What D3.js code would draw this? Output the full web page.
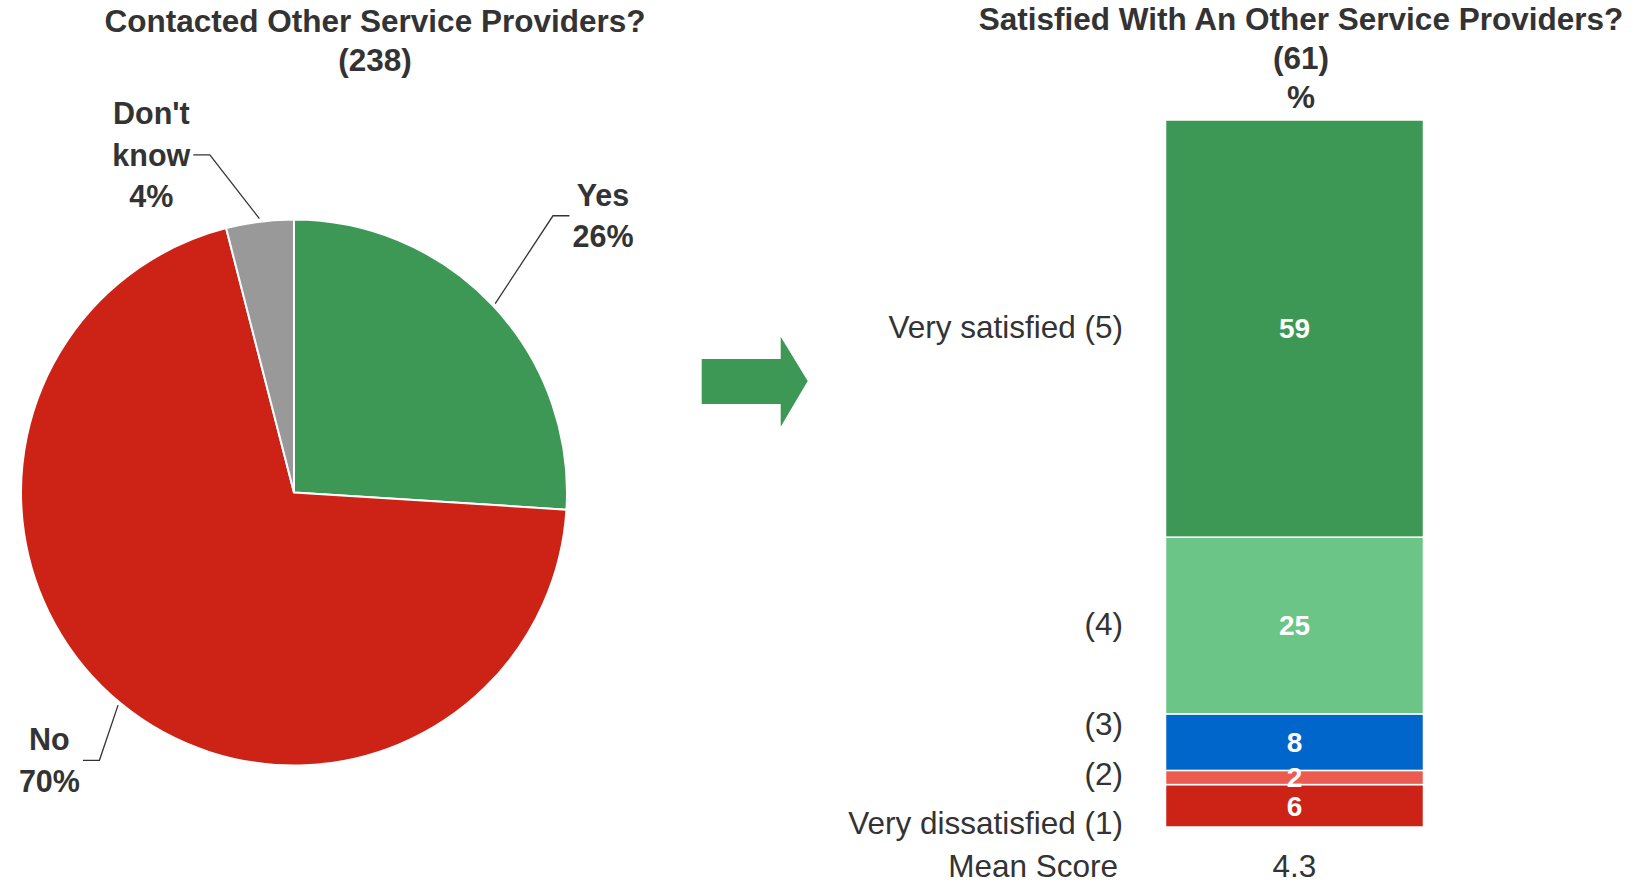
<!DOCTYPE html>
<html><head><meta charset="utf-8">
<script src="https://cdn.jsdelivr.net/npm/d3@7"></script>
<style>
body{margin:0;background:#fff;}
text{font-family:"Liberation Sans",Arial,Helvetica,sans-serif;}
</style>
</head><body>
<svg id="c" width="1645" height="883"></svg>
<script>
// ---------- DATA ----------
const pieTitle = ["Contacted Other Service Providers?", "(238)"];
const pieCategories = ["Yes", "No", "Don't know"];
const pieValues = [26, 70, 4];
const pieLabelLines = [["Yes", "26%"], ["No", "70%"], ["Don't", "know", "4%"]];
const pieColors = ["#3d9856", "#cc2316", "#999999"];

const barTitle = ["Satisfied With An Other Service Providers?", "(61)", "%"];
const barCategories = ["Very dissatisfied (1)", "(2)", "(3)", "(4)", "Very satisfied (5)"];
const barValues = [6, 2, 8, 25, 59];
const barColors = ["#cc2316", "#ec5b50", "#0066cc", "#6bc586", "#3d9856"];
const meanLabel = "Mean Score";
const meanValue = "4.3";

// ---------- LAYOUT ----------
const svg = d3.select("#c");
const txt = "#333333";

// ===== PIE =====
const cx = 294, cy = 492.5, R = 273;
const g = svg.append("g").attr("transform", `translate(${cx},${cy})`);
const pie = d3.pie().sort(null).value(d => d)(pieValues);
const arc = d3.arc().innerRadius(0).outerRadius(R);
g.selectAll("path.slice").data(pie).join("path")
  .attr("class", "slice")
  .attr("d", arc)
  .attr("fill", (d, i) => pieColors[i])
  .attr("stroke", "#fff").attr("stroke-width", 2).attr("stroke-linejoin", "round");

// leader line layout (elbow radius & angular tweak per slice)
const elbowR = [379, 331, 348];
const elbowDelta = [-3.7, -3.6, -6.8].map(a => a * Math.PI / 180);
const pieFont = 30.5, pieLH = 41.5;
const polar = (a, r) => [r * Math.sin(a), -r * Math.cos(a)];
pie.forEach((d, i) => {
  const mid = (d.startAngle + d.endAngle) / 2;
  const p0 = polar(mid, R + 3);
  const p1 = polar(mid + elbowDelta[i], elbowR[i]);
  const side = p1[0] > 0 ? 1 : -1;
  const p2 = [p1[0] + side * 16.5, p1[1]];
  g.append("polyline")
    .attr("points", [p0, p1, p2].map(p => p.join(",")).join(" "))
    .attr("fill", "none").attr("stroke", "#333").attr("stroke-width", 1.3);
  const lines = pieLabelLines[i];
  const t = g.append("text").attr("text-anchor", "middle")
    .attr("font-size", pieFont).attr("font-weight", "bold").attr("fill", txt);
  lines.forEach((l, k) => {
    t.append("tspan").text(l)
      .attr("y", p1[1] + (k - (lines.length - 1) / 2) * pieLH + pieFont * 0.35);
  });
  let w = 0;
  t.selectAll("tspan").each(function () { w = Math.max(w, this.getComputedTextLength()); });
  const tx = p2[0] + side * (w / 2 + 3);
  t.selectAll("tspan").attr("x", tx);
});

// pie title
const pt = svg.append("text").attr("text-anchor", "middle")
  .attr("font-size", 31.5).attr("font-weight", "bold").attr("fill", txt);
pieTitle.forEach((l, k) => pt.append("tspan").attr("x", 375).attr("y", 32 + k * 39).text(l));

// ===== ARROW =====
svg.append("path")
  .attr("d", "M701.7,359 L780.7,359 L780.7,336.7 L807.7,381 L780.7,426.7 L780.7,404 L701.7,404 Z")
  .attr("fill", "#3d9856");

// ===== STACKED BAR =====
const y = d3.scaleLinear().domain([0, 100]).range([827, 120]);
const x = d3.scaleBand().domain(["%"]).range([1165.5, 1423.5]).padding(0);
const row = {};
barCategories.forEach((c, i) => row[c] = barValues[i]);
const stack = d3.stack().keys(barCategories)([row]);

svg.selectAll("rect.seg").data(stack).join("rect")
  .attr("class", "seg")
  .attr("x", x("%"))
  .attr("width", x.bandwidth())
  .attr("y", d => y(d[0][1]))
  .attr("height", d => y(d[0][0]) - y(d[0][1]))
  .attr("fill", (d, i) => barColors[i])
  .attr("stroke", "#fff").attr("stroke-width", 1.5);

// value labels
svg.selectAll("text.val").data(stack).join("text")
  .attr("class", "val")
  .attr("x", x("%") + x.bandwidth() / 2)
  .attr("y", d => (y(d[0][0]) + y(d[0][1])) / 2 + 28 * 0.35)
  .attr("text-anchor", "middle").attr("font-size", 28).attr("font-weight", "bold")
  .attr("fill", "#fff")
  .text((d, i) => barValues[i]);

// category labels with collision avoidance
const catFont = 31.5;
const ideal = stack.map(d => (y(d[0][0]) + y(d[0][1])) / 2);
const order = d3.range(ideal.length).sort((a, b) => ideal[a] - ideal[b]);
const gap = 49.8;
let groups = order.map(i => ({ members: [i] }));
const gc = gr => d3.mean(gr.members, i => ideal[i]);
const gTop = gr => gc(gr) - (gr.members.length - 1) / 2 * gap;
const gBot = gr => gc(gr) + (gr.members.length - 1) / 2 * gap;
let merged = true;
while (merged) {
  merged = false;
  for (let k = 0; k < groups.length - 1; k++) {
    if (gTop(groups[k + 1]) - gBot(groups[k]) < gap) {
      groups.splice(k, 2, { members: groups[k].members.concat(groups[k + 1].members) });
      merged = true; break;
    }
  }
}
const labelY = {};
groups.forEach(gr => gr.members.forEach((i, k) => labelY[i] = gTop(gr) + k * gap));
barCategories.forEach((c, i) => {
  svg.append("text").attr("x", 1123).attr("y", labelY[i] - 1.5 + catFont * 0.35)
    .attr("text-anchor", "end").attr("font-size", catFont).attr("fill", txt).text(c);
});

// mean score row
const meanY = 866;
svg.append("text").attr("x", 1118).attr("y", meanY + 30.5 * 0.35)
  .attr("text-anchor", "end").attr("font-size", catFont).attr("fill", txt).text(meanLabel);
svg.append("text").attr("x", x("%") + x.bandwidth() / 2).attr("y", meanY + 30.5 * 0.35)
  .attr("text-anchor", "middle").attr("font-size", catFont).attr("fill", txt).text(meanValue);

// bar title
const bt = svg.append("text").attr("text-anchor", "middle")
  .attr("font-size", 31.5).attr("font-weight", "bold").attr("fill", txt);
barTitle.forEach((l, k) => bt.append("tspan").attr("x", 1301).attr("y", 30 + k * 39).text(l));
</script>
</body></html>
